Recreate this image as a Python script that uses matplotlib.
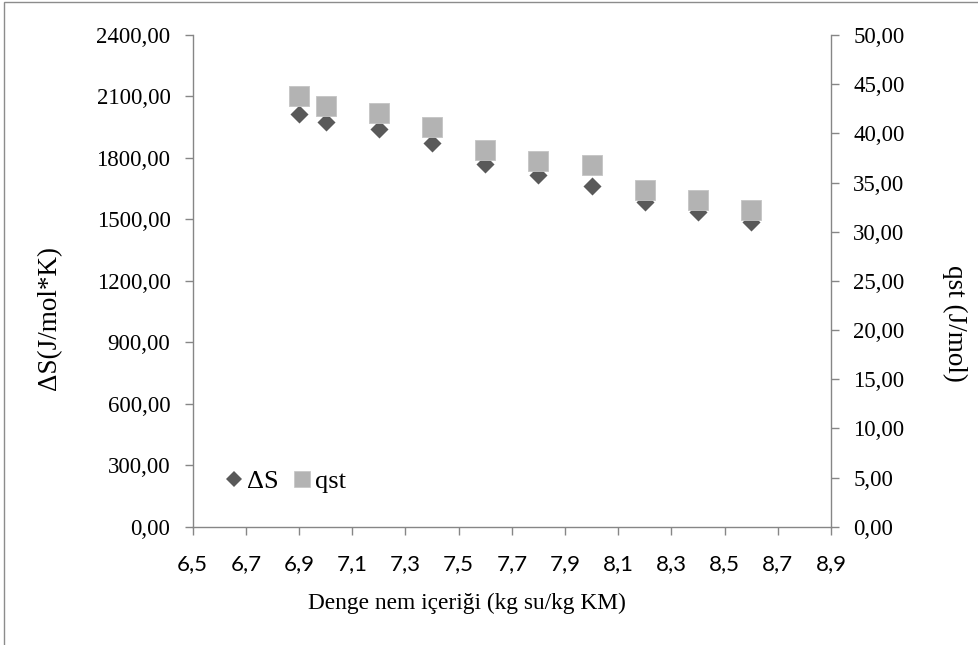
import matplotlib
matplotlib.use("Agg")
import matplotlib.pyplot as plt
from matplotlib.lines import Line2D
from matplotlib.patches import Rectangle

# ---- data ----
moisture = [6.9, 7.0, 7.2, 7.4, 7.6, 7.8, 8.0, 8.2, 8.4, 8.6]
delta_s = [2016, 1977, 1941, 1873, 1769, 1717, 1663, 1585, 1535, 1487]
qst = [43.80, 42.78, 42.04, 40.61, 38.31, 37.16, 36.81, 34.27, 33.22, 32.17]

x_ticks = [6.5, 6.7, 6.9, 7.1, 7.3, 7.5, 7.7, 7.9, 8.1, 8.3, 8.5, 8.7, 8.9]
left_ticks = [0, 300, 600, 900, 1200, 1500, 1800, 2100, 2400]
right_ticks = [0, 5, 10, 15, 20, 25, 30, 35, 40, 45, 50]

x_label = "Denge nem içeriği (kg su/kg KM)"
left_label = "ΔS(J/mol*K)"
right_label = "qst (J/mol)"
legend_labels = ["ΔS", "qst"]

SERIF = ["Liberation Serif", "DejaVu Serif"]
SANS = ["Lato", "DejaVu Sans"]
AX_COLOR = "#868686"
DIA_COLOR = "#595959"
SQ_COLOR = "#B3B3B3"
SQ_EDGE = "#C4C4C4"

fig = plt.figure(figsize=(9.79, 6.45), dpi=100)
fig.patch.set_facecolor("white")

# outer chart frame (top and left edges visible)
fig.patches.append(Rectangle((4 / 979, -0.2), 1.2, 1.2 - 2 / 645,
                             transform=fig.transFigure, fill=False,
                             edgecolor="#8c8c8c", linewidth=1.0))

ax = fig.add_axes([192.7 / 979, 1 - 526.7 / 645, (831 - 192.7) / 979, (526.7 - 35) / 645])
ax2 = ax.twinx()

ax.scatter(moisture, delta_s, marker="D", s=9.2 ** 2, color=DIA_COLOR, linewidths=0, zorder=3)
ax2.scatter(moisture, qst, marker="s", s=13.8 ** 2, color=SQ_COLOR, edgecolors=SQ_EDGE,
            linewidths=0.6, zorder=3)

ax.set_xlim(6.5, 8.9)
ax.set_ylim(0, 2400)
ax2.set_ylim(0, 50)

ax.set_xticks(x_ticks)
ax.set_xticklabels([f"{v:.1f}".replace(".", ",") for v in x_ticks], family=SANS, fontsize=16)
ax.set_yticks(left_ticks)
ax.set_yticklabels([f"{v:.2f}".replace(".", ",") for v in left_ticks], family=SERIF, fontsize=16.5)
ax2.set_yticks(right_ticks)
ax2.set_yticklabels([f"{v:.2f}".replace(".", ",") for v in right_ticks], family=SERIF, fontsize=16.5)

for a in (ax, ax2):
    a.spines["top"].set_visible(False)
    for s in ("left", "right", "bottom"):
        a.spines[s].set_color(AX_COLOR)
        a.spines[s].set_linewidth(1.0)
    a.tick_params(axis="both", direction="out", length=5.5, width=1.0, color=AX_COLOR)

ax.spines["right"].set_visible(False)
ax2.spines["left"].set_visible(False)
ax2.spines["bottom"].set_visible(False)
ax.tick_params(axis="y", pad=10.5)
ax2.tick_params(axis="y", pad=10.5)
ax.tick_params(axis="x", pad=14)

ax.set_xlabel(x_label, family=SERIF, fontsize=16.8, va="center", ha="center")
ax.xaxis.set_label_coords(0.4297, -0.157)
ax.set_ylabel(left_label, family=SERIF, fontsize=19.5, va="center", ha="center",
              rotation=90, rotation_mode="anchor")
ax.yaxis.set_label_coords(-0.2243, 0.424)
ax2.set_ylabel(right_label, family=SERIF, fontsize=19.5, va="center", ha="center",
               rotation=270, rotation_mode="anchor")
ax2.yaxis.set_label_coords(1.1943, 0.414)

handles = [
    Line2D([], [], marker="D", linestyle="none", markersize=8.1, color=DIA_COLOR, markeredgewidth=0),
    Line2D([], [], marker="s", linestyle="none", markersize=12.0, color=SQ_COLOR,
           markeredgecolor=SQ_EDGE, markeredgewidth=0.5),
]
leg = ax2.legend(handles, legend_labels, loc="center left",
                 bbox_to_anchor=(0.0519, (526.7 - 481) / 491.7),
                 ncol=2, frameon=False, prop={"family": SERIF, "size": 19},
                 handlelength=0.6, handletextpad=0.19, columnspacing=0.59,
                 borderaxespad=0, borderpad=0)

fig.savefig("out.png", dpi=100, facecolor="white")
